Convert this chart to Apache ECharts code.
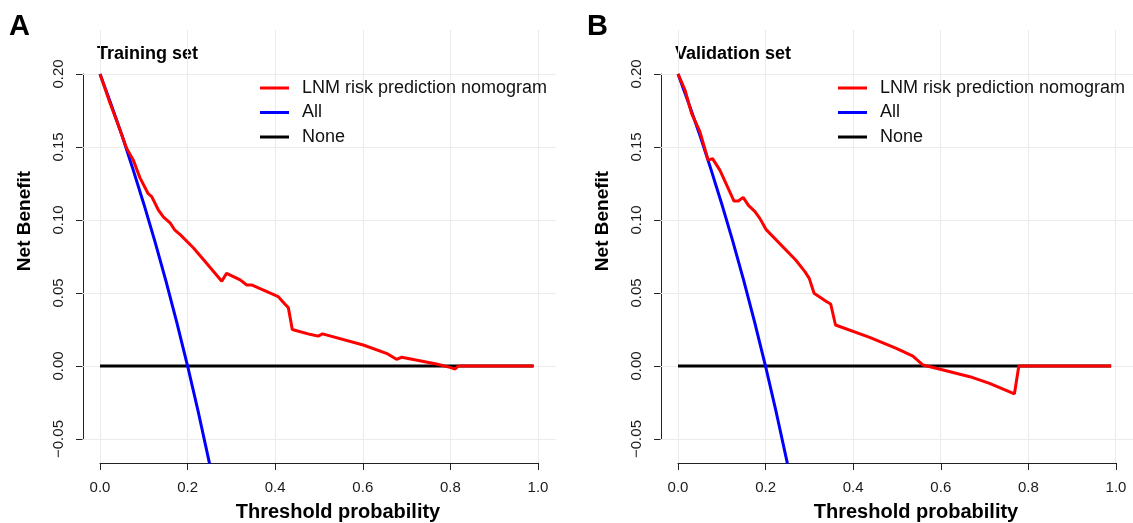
<!DOCTYPE html>
<html>
<head>
<meta charset="utf-8">
<script src="https://cdn.jsdelivr.net/npm/echarts@6/dist/echarts.min.js"></script>
<style>
html,body{margin:0;padding:0;background:#fff;}
#chart{width:1133px;height:523px;}
</style>
</head>
<body>
<div id="chart"></div>
<script>
// ---- data ----
const seriesNames = ['LNM risk prediction nomogram', 'All', 'None'];
const xTicks = [0, 0.2, 0.4, 0.6, 0.8, 1.0];
const xTickLabels = ['0.0', '0.2', '0.4', '0.6', '0.8', '1.0'];
const yTicks = [-0.05, 0, 0.05, 0.10, 0.15, 0.20];
const yTickLabels = ['\u22120.05', '0.00', '0.05', '0.10', '0.15', '0.20'];

const trainNomogram = [
  [0,0.200],[0.023,0.180],[0.038,0.168],[0.061,0.149],[0.076,0.141],[0.091,0.129],
  [0.110,0.118],[0.118,0.116],[0.133,0.107],[0.145,0.102],[0.160,0.098],[0.171,0.093],
  [0.183,0.090],[0.213,0.081],[0.236,0.073],[0.278,0.058],[0.289,0.0635],[0.320,0.059],
  [0.335,0.0555],[0.346,0.0555],[0.407,0.0475],[0.422,0.0425],[0.430,0.040],[0.439,0.025],
  [0.479,0.0217],[0.498,0.0205],[0.508,0.022],[0.601,0.0144],[0.654,0.0087],[0.677,0.0046],
  [0.689,0.006],[0.768,0.0014],[0.799,-0.0009],[0.811,-0.002],[0.818,0],[0.990,0]
];
const trainAll = [
  [0,0.200],[0.025,0.1795],[0.05,0.158],[0.075,0.135],[0.10,0.111],[0.125,0.0857],
  [0.15,0.0588],[0.175,0.0303],[0.20,0.0],[0.225,-0.0323],[0.25,-0.0667]
];
const trainNone = [[0,0],[0.99,0]];

const validNomogram = [
  [0,0.200],[0.016,0.189],[0.031,0.173],[0.050,0.1605],[0.069,0.141],[0.079,0.142],
  [0.096,0.134],[0.128,0.113],[0.138,0.113],[0.149,0.1155],[0.161,0.110],[0.176,0.1057],
  [0.187,0.1011],[0.201,0.0936],[0.269,0.0726],[0.290,0.0646],[0.300,0.060],[0.311,0.0498],
  [0.340,0.044],[0.349,0.0425],[0.360,0.0281],[0.438,0.0196],[0.499,0.0121],[0.537,0.0068],
  [0.560,0.0007],[0.606,-0.0027],[0.667,-0.0073],[0.712,-0.0119],[0.769,-0.019],[0.779,0],[0.990,0]
];
const validAll = [
  [0,0.200],[0.025,0.1795],[0.05,0.158],[0.075,0.135],[0.10,0.111],[0.125,0.0857],
  [0.15,0.0588],[0.175,0.0303],[0.20,0.0],[0.225,-0.0323],[0.25,-0.0667]
];
const validNone = [[0,0],[0.99,0]];

const panels = [
  {letter:'A', title:'Training set', nomo:trainNomogram, all:trainAll, none:trainNone, ox:0},
  {letter:'B', title:'Validation set', nomo:validNomogram, all:validAll, none:validNone, ox:578}
];

// ---- build ----
const FONT = 'Liberation Sans, Arial, Helvetica, sans-serif';
const colors = {nomo:'#ff0000', all:'#0000ff', none:'#000000'};
function lab(ticks, labels){
  return function(v){
    for (let i=0;i<ticks.length;i++) if (Math.abs(ticks[i]-v)<1e-9) return labels[i];
    return '';
  };
}

const grid=[], xAxis=[], yAxis=[], series=[], legend=[], graphic=[];
panels.forEach(function(p, k){
  const ox = p.ox;
  // plot region (data + grid lines)
  grid.push({left:82.5+ox, top:30, width:473, height:433, containLabel:false});
  // axis grid (R-style axes from first to last tick)
  grid.push({left:100+ox, top:74, width:438, height:365, containLabel:false});
  const gi = k*2;
  xAxis.push({type:'value', gridIndex:gi, min:-0.04, max:1.04, show:false, splitLine:{show:false}});
  yAxis.push({type:'value', gridIndex:gi, min:-0.0664, max:0.2301, show:false, splitLine:{show:false}});
  xAxis.push({type:'value', gridIndex:gi+1, min:0, max:1, interval:0.2, position:'bottom', offset:24,
    axisLine:{show:true, onZero:false, lineStyle:{color:'#222', width:1}},
    axisTick:{show:true, length:7, lineStyle:{color:'#222', width:1}},
    splitLine:{show:false},
    axisLabel:{fontSize:15, color:'#1a1a1a', fontFamily:FONT, margin:17, formatter:lab(xTicks,xTickLabels)}});
  yAxis.push({type:'value', gridIndex:gi+1, min:-0.05, max:0.2, interval:0.05, position:'left', offset:17,
    axisLine:{show:true, onZero:false, lineStyle:{color:'#222', width:1}},
    axisTick:{show:true, length:7, lineStyle:{color:'#222', width:1}},
    splitLine:{show:false},
    axisLabel:{fontSize:15, color:'#1a1a1a', fontFamily:FONT, margin:17, rotate:90, formatter:lab(yTicks,yTickLabels)}});
  const xi = k*2, yi = k*2;
  // grid lines
  series.push({type:'line', xAxisIndex:xi, yAxisIndex:yi, data:[], silent:true, z:1,
    markLine:{silent:true, z:1, symbol:['none','none'], animation:false, label:{show:false},
      emphasis:{disabled:true},
      lineStyle:{color:'#ebebeb', width:1, type:'solid'},
      data: xTicks.map(function(v){return {xAxis:v};}).concat(yTicks.map(function(v){return {yAxis:v};}))}});
  series.push({type:'line', name:'None', xAxisIndex:xi, yAxisIndex:yi, data:p.none, symbol:'none', z:3,
    lineStyle:{color:colors.none, width:3}, itemStyle:{color:colors.none}, clip:true});
  series.push({type:'line', name:'All', xAxisIndex:xi, yAxisIndex:yi, data:p.all, symbol:'none', z:4,
    lineStyle:{color:colors.all, width:3}, itemStyle:{color:colors.all}, clip:true});
  series.push({type:'line', name:'LNM risk prediction nomogram', xAxisIndex:xi, yAxisIndex:yi, data:p.nomo, symbol:'none', z:5,
    lineStyle:{color:colors.nomo, width:3}, itemStyle:{color:colors.nomo}, clip:true});
  legend.push({left:260+ox, top:78, padding:0, orient:'vertical', data:seriesNames, icon:'rect',
    itemWidth:29, itemHeight:3, itemGap:4.5, itemStyle:{borderWidth:0},
    textStyle:{fontSize:18, color:'#111', fontFamily:FONT, lineHeight:20, padding:[0,0,0,8]}, selectedMode:false});
  graphic.push({type:'text', left:9+ox, top:12, style:{text:p.letter, font:'bold 29px '+FONT, fill:'#000'}});
  graphic.push({type:'text', left:97+ox, top:45, style:{text:p.title, font:'bold 18px '+FONT, fill:'#000'}});
  graphic.push({type:'text', x:25+ox, y:221, rotation:Math.PI/2,
    style:{text:'Net Benefit', font:'bold 19px '+FONT, fill:'#000', align:'center', verticalAlign:'middle', textAlign:'center', textVerticalAlign:'middle'}});
  graphic.push({type:'text', x:338+ox, y:512,
    style:{text:'Threshold probability', font:'bold 20px '+FONT, fill:'#000', align:'center', verticalAlign:'middle', textAlign:'center', textVerticalAlign:'middle'}});
});

const chart = echarts.init(document.getElementById('chart'), null, {renderer:'canvas'});
chart.setOption({
  animation:false,
  backgroundColor:'#ffffff',
  textStyle:{fontFamily:FONT},
  grid:grid, xAxis:xAxis, yAxis:yAxis, series:series, legend:legend, graphic:graphic
});
</script>
</body>
</html>
